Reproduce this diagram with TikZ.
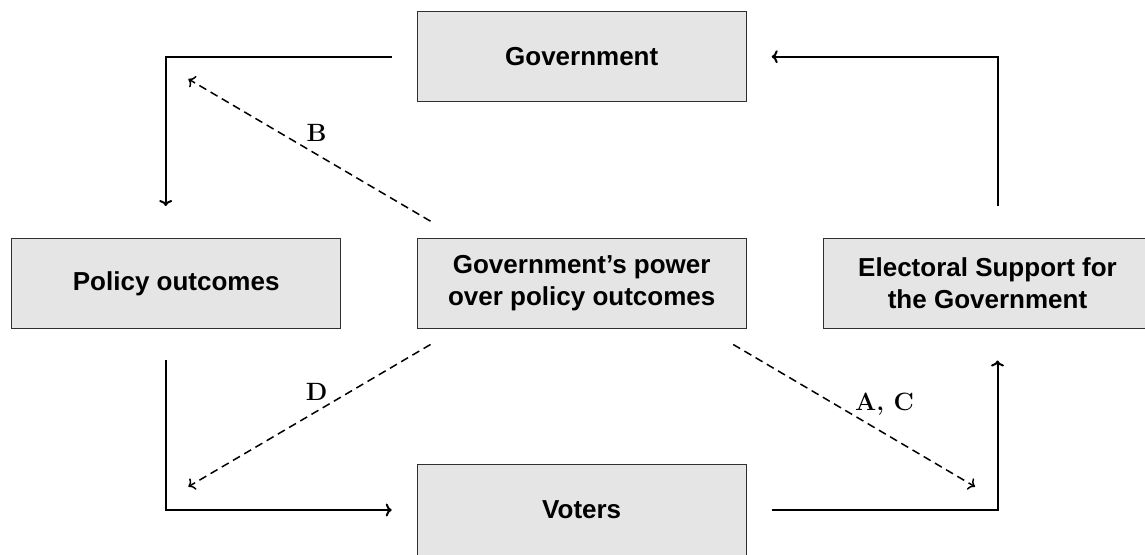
\documentclass[tikz,border=0pt]{standalone}
\usepackage{fontspec}
\setsansfont{Liberation Sans}
\usepackage{tikz}
\usetikzlibrary{calc}
\usetikzlibrary{arrows.meta}
\definecolor{boxgray}{HTML}{E5E5E5}
\definecolor{boxline}{HTML}{303030}
\tikzset{
  stage/.style={draw=boxline, fill=boxgray, line width=1pt, minimum width=329pt, minimum height=90pt, inner sep=0pt, align=center, font=\sffamily\bfseries\fontsize{26}{32}\selectfont},
  flow/.style={line width=2pt, -{To[length=6pt,width=13pt]}},
  link/.style={line width=1.5pt, dash pattern=on 8pt off 5pt, -{To[length=6pt,width=13pt]}},
  tag/.style={font=\bfseries\fontsize{25}{30}\selectfont}
}
\begin{document}
\begin{tikzpicture}[x=1pt,y=1pt]
        \useasboundingbox (0,0) rectangle (1145,554);
        % boxes
        \node[stage] (gov) at (581.7,497.3) {Government};
        \node[stage] (pol) at (176.2,270.5) {Policy outcomes};
        \node[stage] (pow) at (581.7,270.5) {Government’s power\\over policy outcomes};
        \node[stage] (sup) at (987.5,270.5) {Electoral Support for\\the Government};
        \node[stage] (vot) at (581.7,44) {Voters};
        % free ends of the dashed links
        \coordinate (bEnd) at (188.3,475);
        \coordinate (dEnd) at (188.3,67.3);
        \coordinate (acEnd) at (975,67.3);
        % loop
        \draw[flow] ([xshift=-25pt]gov.west) -| ([xshift=-10.5pt,yshift=32pt]pol.north);
        \draw[flow] ([xshift=-10.5pt,yshift=-31.5pt]pol.south) |- ([xshift=-25pt]vot.west);
        \draw[flow] ([xshift=25pt]vot.east) -| ([xshift=10pt,yshift=-31.5pt]sup.south);
        \draw[flow] ([xshift=10pt,yshift=32pt]sup.north) |- ([xshift=25pt]gov.east);
        % links
        \draw[link] ([shift={(13.8pt,16.8pt)}]pow.north west) -- node[tag, pos=.47, yshift=21pt] (tagB) {B} (bEnd);
        \draw[link] ([shift={(13.8pt,-15.5pt)}]pow.south west) -- node[tag, pos=.47, yshift=19.5pt] (tagD) {D} (dEnd);
        \draw[link] ([shift={(-13.5pt,-15.5pt)}]pow.south east) -- node[tag, pos=.626, yshift=29pt] (tagAC) {A, C} (acEnd);
\end{tikzpicture}
\end{document}
